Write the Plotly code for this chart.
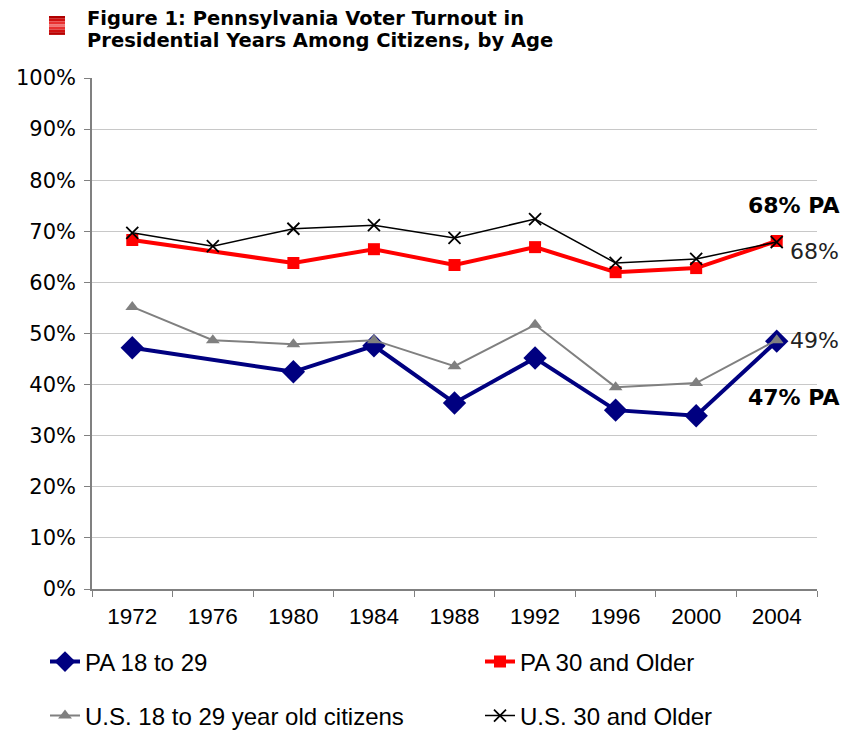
import plotly.graph_objects as go

years = ["1972", "1976", "1980", "1984", "1988", "1992", "1996", "2000", "2004"]
pa_18_29 = [47.2, None, 42.5, 47.6, 36.4, 45.2, 35.0, 33.9, 48.5]
pa_30_older = [68.3, None, 63.8, 66.5, 63.4, 66.9, 62.0, 62.8, 68.1]
us_18_29 = [55.2, 48.7, 47.9, 48.7, 43.6, 51.7, 39.5, 40.3, 48.7]
us_30_older = [69.7, 67.1, 70.5, 71.2, 68.7, 72.4, 63.8, 64.6, 67.9]
y_ticks = [0, 10, 20, 30, 40, 50, 60, 70, 80, 90, 100]
y_tick_labels = [f"{v}%" for v in y_ticks]

title_lines = ["Figure 1: Pennsylvania Voter Turnout in",
               "Presidential Years Among Citizens, by Age"]

W, H = 853, 732
narrow = "Liberation Sans, Arial, sans-serif"
wide = "DejaVu Sans, Verdana, sans-serif"


def px(x):
    return x / W


def py(y):
    return 1 - y / H


fig = go.Figure()
fig.add_trace(go.Scatter(x=years, y=pa_18_29, name="PA 18 to 29", mode="lines+markers",
                         connectgaps=True, line=dict(color="#000080", width=4),
                         marker=dict(symbol="diamond", size=18, color="#000080"),
                         legend="legend"))
fig.add_trace(go.Scatter(x=years, y=pa_30_older, name="PA 30 and Older", mode="lines+markers",
                         connectgaps=True, line=dict(color="#ff0000", width=4),
                         marker=dict(symbol="square", size=12, color="#ff0000"),
                         legend="legend2"))
fig.add_trace(go.Scatter(x=years, y=us_18_29, name="U.S. 18 to 29 year old citizens", mode="lines+markers",
                         line=dict(color="#808080", width=2),
                         marker=dict(symbol="triangle-up", size=12, color="#808080"),
                         legend="legend3"))
fig.add_trace(go.Scatter(x=years, y=us_30_older, name="U.S. 30 and Older", mode="lines+markers",
                         line=dict(color="#000000", width=1.5),
                         marker=dict(symbol="x-thin", size=12, color="#000000",
                                     line=dict(color="#000000", width=1.8)),
                         legend="legend4"))

# end-of-line labels (paper coords)
fig.add_annotation(xref="paper", yref="paper", x=px(841), y=py(206), text="<b>68% PA</b>",
                   showarrow=False, xanchor="right", yanchor="middle",
                   font=dict(family=wide, size=22, color="#000"))
fig.add_annotation(xref="paper", yref="paper", x=px(841), y=py(251), text="68%",
                   showarrow=False, xanchor="right", yanchor="middle",
                   font=dict(family=wide, size=22, color="#222"))
fig.add_annotation(xref="paper", yref="paper", x=px(841), y=py(340), text="49%",
                   showarrow=False, xanchor="right", yanchor="middle",
                   font=dict(family=wide, size=22, color="#222"))
fig.add_annotation(xref="paper", yref="paper", x=px(841), y=py(397), text="<b>47% PA</b>",
                   showarrow=False, xanchor="right", yanchor="middle",
                   font=dict(family=wide, size=22, color="#000"))

# title
for i, line in enumerate(title_lines):
    fig.add_annotation(xref="paper", yref="paper", x=px(85), y=py(18.5 + 22 * i),
                       text="<b>" + line + "</b>", showarrow=False, xanchor="left", yanchor="middle",
                       font=dict(family=wide, size=19.5, color="#000"))

# red icon
reds = ["#b00000", "#d01010", "#e83030", "#f27070", "#e83030", "#d01010", "#b80000"]
for i, c in enumerate(reds):
    fig.add_shape(type="rect", xref="paper", yref="paper",
                  x0=px(49), x1=px(65),
                  y0=py(16 + 2.7 * i), y1=py(16 + 2.7 * (i + 1)),
                  fillcolor=c, line=dict(width=0))


def leg(x_text, y_mid):
    return dict(orientation="h", x=px(x_text - 40), y=py(y_mid), yanchor="middle", xanchor="left",
                font=dict(family=narrow, size=24, color="#000"), bgcolor="rgba(0,0,0,0)")


fig.update_layout(
    width=W, height=H,
    margin=dict(l=0, r=0, t=0, b=0, autoexpand=False),
    plot_bgcolor="white", paper_bgcolor="white",
    xaxis=dict(domain=[px(92), px(817)], type="category", range=[-0.5, 8.5], tickson="boundaries",
               ticks="outside", ticklen=6, tickcolor="#808080", showline=True, linecolor="#808080",
               linewidth=1.5, showgrid=False, ticklabelstandoff=6,
               tickfont=dict(family=narrow, size=22.5, color="#000")),
    yaxis=dict(domain=[py(589), py(78)], range=[0, 100], tickvals=y_ticks, ticktext=y_tick_labels,
               ticks="outside", ticklen=6, tickcolor="#808080", showline=True, linecolor="#808080",
               linewidth=1.5, showgrid=True, gridcolor="#c8c8c8", gridwidth=1, zeroline=False,
               ticklabelstandoff=4, tickfont=dict(family=wide, size=21, color="#000")),
    legend=leg(85, 662),
    legend2=leg(520, 662),
    legend3=leg(85, 716),
    legend4=leg(520, 716),
    showlegend=True,
)

fig.write_html("out.html", post_script="document.body.style.margin='0';",
               config={"displayModeBar": False})
